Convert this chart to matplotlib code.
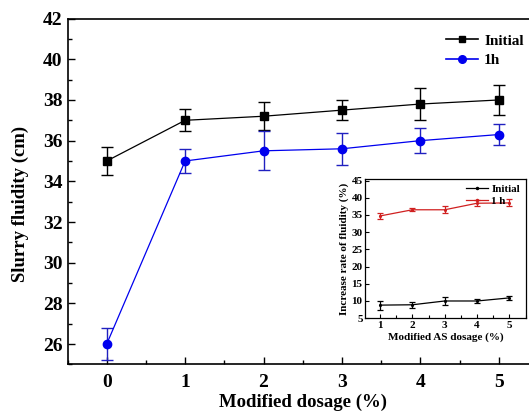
import matplotlib
matplotlib.use("Agg")
import matplotlib.pyplot as plt
from matplotlib.ticker import MultipleLocator
from matplotlib.lines import Line2D

plt.rcParams['font.family'] = ['Liberation Serif', 'DejaVu Serif']
plt.rcParams['font.weight'] = 'bold'

dosage = [0, 1, 2, 3, 4, 5]
initial = [35.0, 37.0, 37.2, 37.5, 37.8, 38.0]
initial_err = [0.7, 0.55, 0.7, 0.5, 0.8, 0.75]
one_h = [26.0, 35.0, 35.5, 35.6, 36.0, 36.3]
one_h_err = [0.8, 0.6, 0.95, 0.8, 0.6, 0.5]

as_dosage = [1, 2, 3, 4, 5]
rate_initial = [8.8, 8.9, 10.0, 10.0, 10.9]
rate_initial_err = [1.3, 0.8, 1.2, 0.7, 0.6]
rate_1h = [34.7, 36.5, 36.5, 38.4, 38.5]
rate_1h_err = [0.8, 0.4, 1.0, 0.8, 1.0]

W, H = 529, 413
fig = plt.figure(figsize=(W/100, H/100), dpi=100)
ax = fig.add_axes([67.5/W, 1-364.4/H, (538-67.5)/W, (364.4-18.6)/H])
ax.errorbar(dosage, initial, yerr=initial_err, color='black', marker='s', ms=5.5,
            lw=0.9, elinewidth=1.0, capsize=4, capthick=1.0)
ax.errorbar(dosage, one_h, yerr=one_h_err, color='#0000ee', marker='o', ms=6,
            lw=0.9, elinewidth=1.0, capsize=4, capthick=1.0, ecolor='#2020c0')
ax.set_xlim(-0.5, 5.5)
ax.set_ylim(25, 42)
ax.xaxis.set_major_locator(MultipleLocator(1))
ax.xaxis.set_minor_locator(MultipleLocator(0.5))
ax.yaxis.set_major_locator(MultipleLocator(2))
ax.yaxis.set_minor_locator(MultipleLocator(1))
ax.tick_params(which='both', direction='in', width=1.0, labelsize=14)
ax.tick_params(which='major', length=5)
ax.tick_params(which='minor', length=3)
ax.tick_params(axis='x', pad=7)
for s in ax.spines.values():
    s.set_linewidth(1.2)
ax.set_xlabel('Modified dosage (%)', fontsize=13.5, fontweight='bold')
ax.set_ylabel('Slurry fluidity (cm)', fontsize=13.5, fontweight='bold')
ax.xaxis.set_label_coords(0.5, -(411 - 364.4) / 345.8)
ax.xaxis.label.set_va('bottom')
ax.yaxis.set_label_coords((20 - 67.5) / 470.5, 1 - (204 - 18.6) / 345.8)
ax.yaxis.label.set_va('center')

handles = [Line2D([], [], color='black', marker='s', ms=5, lw=1.2),
           Line2D([], [], color='#0000ee', marker='o', ms=5.5, lw=1.2)]
leg = ax.legend(handles, ['Initial', '1h'], loc='upper left',
                bbox_to_anchor=(446/W, 1-34/H),
                bbox_transform=fig.transFigure, frameon=False,
                fontsize=11, handlelength=2.1, handletextpad=0.4, labelspacing=0.4,
                borderaxespad=0, borderpad=0)
for t in leg.get_texts():
    t.set_fontweight('bold')

# inset
iax = fig.add_axes([365.4/W, 1-318.2/H, (525.6-365.4)/W, (318.2-178.8)/H])
iax.errorbar(as_dosage, rate_initial, yerr=rate_initial_err, color='black', marker='.',
             ms=2.5, lw=0.9, elinewidth=0.9, capsize=2.5, capthick=0.9)
iax.errorbar(as_dosage, rate_1h, yerr=rate_1h_err, color='#d02020', marker='.',
             ms=2.5, lw=0.9, elinewidth=0.9, capsize=2.5, capthick=0.9)
iax.set_xlim(0.55, 5.5)
iax.set_ylim(5, 45.5)
iax.xaxis.set_major_locator(MultipleLocator(1))
iax.xaxis.set_minor_locator(MultipleLocator(0.5))
iax.yaxis.set_major_locator(MultipleLocator(5))
iax.tick_params(which='both', direction='in', labelsize=8, width=0.8, pad=2)
iax.tick_params(which='major', length=3)
iax.tick_params(which='minor', length=2)
for s in iax.spines.values():
    s.set_linewidth(0.9)
iax.set_xlabel('Modified AS dosage (%)', fontsize=8, fontweight='bold', labelpad=2)
iax.set_ylabel('Increase rate of fluidity (%)', fontsize=8, fontweight='bold', labelpad=2)
ihandles = [Line2D([], [], color='black', marker='.', ms=3, lw=0.9),
            Line2D([], [], color='#d02020', marker='.', ms=3, lw=0.9)]
ileg = iax.legend(ihandles, ['Initial', '1 h'], loc='upper right', frameon=False,
                  fontsize=8, handlelength=2.0, handletextpad=0.3, labelspacing=0.2,
                  borderaxespad=0.1)
for t in ileg.get_texts():
    t.set_fontweight('bold')

fig.savefig('out.png', dpi=100)
